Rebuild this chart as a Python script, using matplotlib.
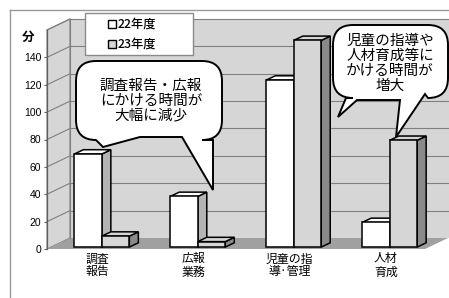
import matplotlib
matplotlib.use("Agg")
import matplotlib.pyplot as plt
from matplotlib.patches import Polygon, PathPatch, Rectangle
from matplotlib.path import Path

# ---------------- data ----------------
categories = ["調査\n報告", "広報\n業務", "児童の指\n導·管理", "人材\n育成"]
series_names = ["22年度", "23年度"]
values_22 = [68, 37, 122, 18]
values_23 = [8, 4, 151, 78]
yticks = [0, 20, 40, 60, 80, 100, 120, 140]
ymax = 160
y_unit = "分"
note_left = "調査報告・広報\nにかける時間が\n大幅に減少"
note_right = "児童の指導や\n人材育成等に\nかける時間が\n増大"

JP = ["Noto Sans CJK JP", "DejaVu Sans"]
NUM = ["Liberation Sans", "DejaVu Sans"]

W, H = 449, 298
fig = plt.figure(figsize=(W / 100, H / 100), dpi=100)

# front plane of the 3-D box, in pixels
L, R, B, T = 47, 425, 249, 30
ax = fig.add_axes([L / W, 1 - B / H, (R - L) / W, (B - T) / H])
xmin, xmax = -0.53, 3.41
ax.set_xlim(xmin, xmax)
ax.set_ylim(0, ymax)
ppx = (R - L) / (xmax - xmin)
ppy = (B - T) / ymax
slope = 11 / 23


def off(px):
    """depth offset (pixels to the right) -> data units (dx, dy)"""
    return px / ppx, px * slope / ppy


wall_c = "#d6d6d6"
floor_c = "#a0a0a0"
grid_c = "#808080"

dxw, dyw = off(23)
# back wall
ax.add_patch(Polygon([(xmin + dxw, dyw), (xmax + dxw + 1, dyw),
                      (xmax + dxw + 1, ymax + dyw), (xmin + dxw, ymax + dyw)],
                     closed=True, fc=wall_c, ec="none", clip_on=False, zorder=1))
# side wall
ax.add_patch(Polygon([(xmin, 0), (xmin, ymax), (xmin + dxw, ymax + dyw), (xmin + dxw, dyw)],
                     closed=True, fc=wall_c, ec=grid_c, lw=0.8, clip_on=False, zorder=1))
# floor
ax.add_patch(Polygon([(xmin, 0), (xmax, 0), (xmax + dxw, dyw), (xmin + dxw, dyw)],
                     closed=True, fc=floor_c, ec="none", clip_on=False, zorder=1))
# gridlines
for v in yticks[1:] + [ymax]:
    ax.plot([xmin, xmin + dxw], [v, v + dyw], color=grid_c, lw=0.8, clip_on=False, zorder=2)
    ax.plot([xmin + dxw, xmax + dxw + 1], [v + dyw, v + dyw], color=grid_c, lw=0.8,
            clip_on=False, zorder=2)
ax.plot([xmin + dxw, xmin + dxw], [dyw, ymax + dyw], color=grid_c, lw=0.8, clip_on=False, zorder=2)
ax.plot([xmin, xmin], [0, ymax], color="#606060", lw=0.9, clip_on=False, zorder=2)

bw = 27.5 / ppx
fdx, fdy = off(4)
bdx, bdy = off(13)


def bar3d(x0, x1, v, c_front, c_side, c_top, z):
    kw = dict(closed=True, ec="black", lw=1.1, joinstyle="miter", clip_on=False, zorder=z)
    ax.add_patch(Polygon([(x1 + fdx, fdy), (x1 + bdx, bdy), (x1 + bdx, v + bdy), (x1 + fdx, v + fdy)],
                         fc=c_side, **kw))
    ax.add_patch(Polygon([(x0 + fdx, v + fdy), (x1 + fdx, v + fdy), (x1 + bdx, v + bdy), (x0 + bdx, v + bdy)],
                         fc=c_top, **kw))
    ax.add_patch(Polygon([(x0 + fdx, fdy), (x1 + fdx, fdy), (x1 + fdx, v + fdy), (x0 + fdx, v + fdy)],
                         fc=c_front, **kw))


for i, (a, b) in enumerate(zip(values_22, values_23)):
    bar3d(i - bw, i, a, "white", "#b4b4b4", "white", 3 + 2 * i)
    bar3d(i, i + bw, b, wall_c, "#8a8a8a", wall_c, 4 + 2 * i)

for s in ax.spines.values():
    s.set_visible(False)
ax.set_yticks(yticks)
ax.set_yticklabels([str(t) for t in yticks], family=NUM, fontsize=7.5)
ax.tick_params(axis="y", length=2, width=0.8, color="#606060", pad=2)
ax.set_xticks(range(len(categories)))
ax.set_xticklabels(categories, family=JP, fontsize=8.6, linespacing=1.0)
ax.tick_params(axis="x", length=0, pad=2.5)

# ---------------- overlay (frame, legend, callouts) ----------------
ov = fig.add_axes([0, 0, 1, 1], zorder=10)
ov.set_xlim(0, W)
ov.set_ylim(H, 0)
ov.axis("off")
ov.patch.set_alpha(0)

ov.plot([10, W], [10, 10], color="#9a9a9a", lw=1)
ov.plot([10, 10], [10, H], color="#9a9a9a", lw=1)

ov.text(28, 37, y_unit, family=JP, fontsize=9, fontweight="bold", ha="center", va="center")

# legend
ov.add_patch(Rectangle((85, 13), 108, 42, fc="white", ec="#8a8a8a", lw=1))
for j, (nm, fc) in enumerate(zip(series_names, ["white", wall_c])):
    yy = 24 + 20 * j
    ov.add_patch(Rectangle((108, yy - 4), 7.5, 7.5, fc=fc, ec="black", lw=1))
    ov.text(118, yy, nm, family=JP, fontsize=8.8, fontweight="medium", ha="left", va="center")


def bubble(x0, y0, x1, y1, r, tail):
    """rounded box with a tail; tail = list of points inserted on the bottom edge (right->left)"""
    verts, codes = [], []
    verts += [(x0 + r, y0)]; codes += [Path.MOVETO]
    verts += [(x1 - r, y0)]; codes += [Path.LINETO]
    verts += [(x1, y0), (x1, y0 + r)]; codes += [Path.CURVE3] * 2
    verts += [(x1, y1 - r)]; codes += [Path.LINETO]
    verts += [(x1, y1), (x1 - r, y1)]; codes += [Path.CURVE3] * 2
    for p in tail:
        verts.append(p); codes.append(Path.LINETO)
    verts += [(x0 + r, y1)]; codes += [Path.LINETO]
    verts += [(x0, y1), (x0, y1 - r)]; codes += [Path.CURVE3] * 2
    verts += [(x0, y0 + r)]; codes += [Path.LINETO]
    verts += [(x0, y0), (x0 + r, y0)]; codes += [Path.CURVE3] * 2
    verts += [(x0 + r, y0)]; codes += [Path.CLOSEPOLY]
    ov.add_patch(PathPatch(Path(verts, codes), fc="white", ec="black", lw=1.4, joinstyle="miter"))


bubble(76, 61, 222, 140, 20, [(213, 140), (213, 190), (182, 137), (140, 137), (103, 147), (96, 140)])
ov.text(151, 100.5, note_left, family=JP, fontsize=10.5, ha="center", va="center", linespacing=1.05)

bubble(333, 25, 448, 98, 20, [(425, 94), (396, 137), (400, 100), (357, 100), (338, 117), (346, 98)])
ov.text(390, 63.5, note_right, family=JP, fontsize=10.5, ha="center", va="center", linespacing=1.08)

fig.savefig("out.png", dpi=100)
